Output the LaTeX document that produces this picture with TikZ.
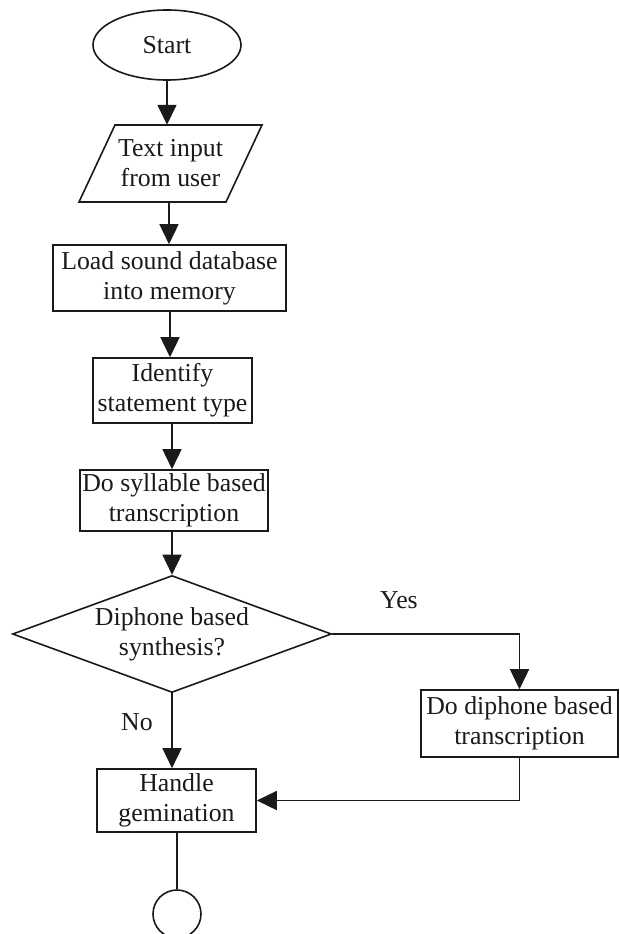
\documentclass[tikz,border=0pt]{standalone}
\usepackage{fontspec}
\setmainfont{Liberation Serif}
\usetikzlibrary{shapes.geometric,arrows.meta}
\definecolor{ink}{HTML}{1A1A1A}
\tikzset{
  flow/.style={draw=ink, line width=1.6pt},
  txt/.style={font=\fontsize{25.8}{30}\selectfont, text=ink, align=center, inner sep=0pt},
  procbox/.style={txt, flow, rectangle},
  arr/.style={flow, -{Triangle[length=20pt,width=19pt]}},
}
\begin{document}
\begin{tikzpicture}[x=1pt,y=-1pt]
\useasboundingbox (0,0) rectangle (619,934);

% terminal and input
\node[txt, flow, ellipse, minimum width=148pt, minimum height=70pt] (start) at (167,45) {Start};
\node[txt, minimum width=147pt, minimum height=77pt] (input) at (170.5,163.5) {Text input\\from user};
\draw[flow, line join=miter] (115,125) -- (262,125) -- (226,202) -- (79,202) -- cycle;

% processing steps
\node[procbox, minimum width=233pt, minimum height=66pt] (load) at (169.5,278) {Load sound database\\into memory};
\node[procbox, minimum width=159pt, minimum height=65pt] (ident) at (172.5,390.5) {Identify\\statement type};
\node[procbox, minimum width=188pt, minimum height=61pt] (syll) at (174,500.5) {Do syllable based\\transcription};

% decision
\node[txt, flow, diamond, shape aspect=2.73, minimum width=319pt, minimum height=117pt] (dec) at (172,634) {Diphone based\\synthesis?};

\node[procbox, minimum width=197pt, minimum height=67pt] (diph) at (519.5,723.5) {Do diphone based\\transcription};
\node[procbox, minimum width=159pt, minimum height=63pt] (gem) at (176.5,800.5) {Handle\\gemination};

% connector circle
\node[flow, circle, minimum size=48pt, inner sep=0pt] (endc) at (177,914) {};

% connectors
\draw[arr] (start.south) -- (start.south |- input.north);
\draw[arr] (input.south -| 169,0) -- (load.north -| 169,0);
\draw[arr] (load.south -| 170,0) -- (ident.north -| 170,0);
\draw[arr] (ident.south -| 172,0) -- (syll.north -| 172,0);
\draw[arr] (syll.south -| 172,0) -- (dec.north);
\draw[arr] (dec.east) -- (diph.north |- dec.east) -- (diph.north);
\draw[arr] (dec.south) -- (dec.south |- gem.north);
\draw[arr] (diph.south) |- (gem.east);
\draw[flow] (gem.south -| endc.north) -- (endc.north);

% branch labels
\node[txt] (yes) at (399,600) {Yes};
\node[txt] (no) at (137,722) {No};
\end{tikzpicture}
\end{document}
